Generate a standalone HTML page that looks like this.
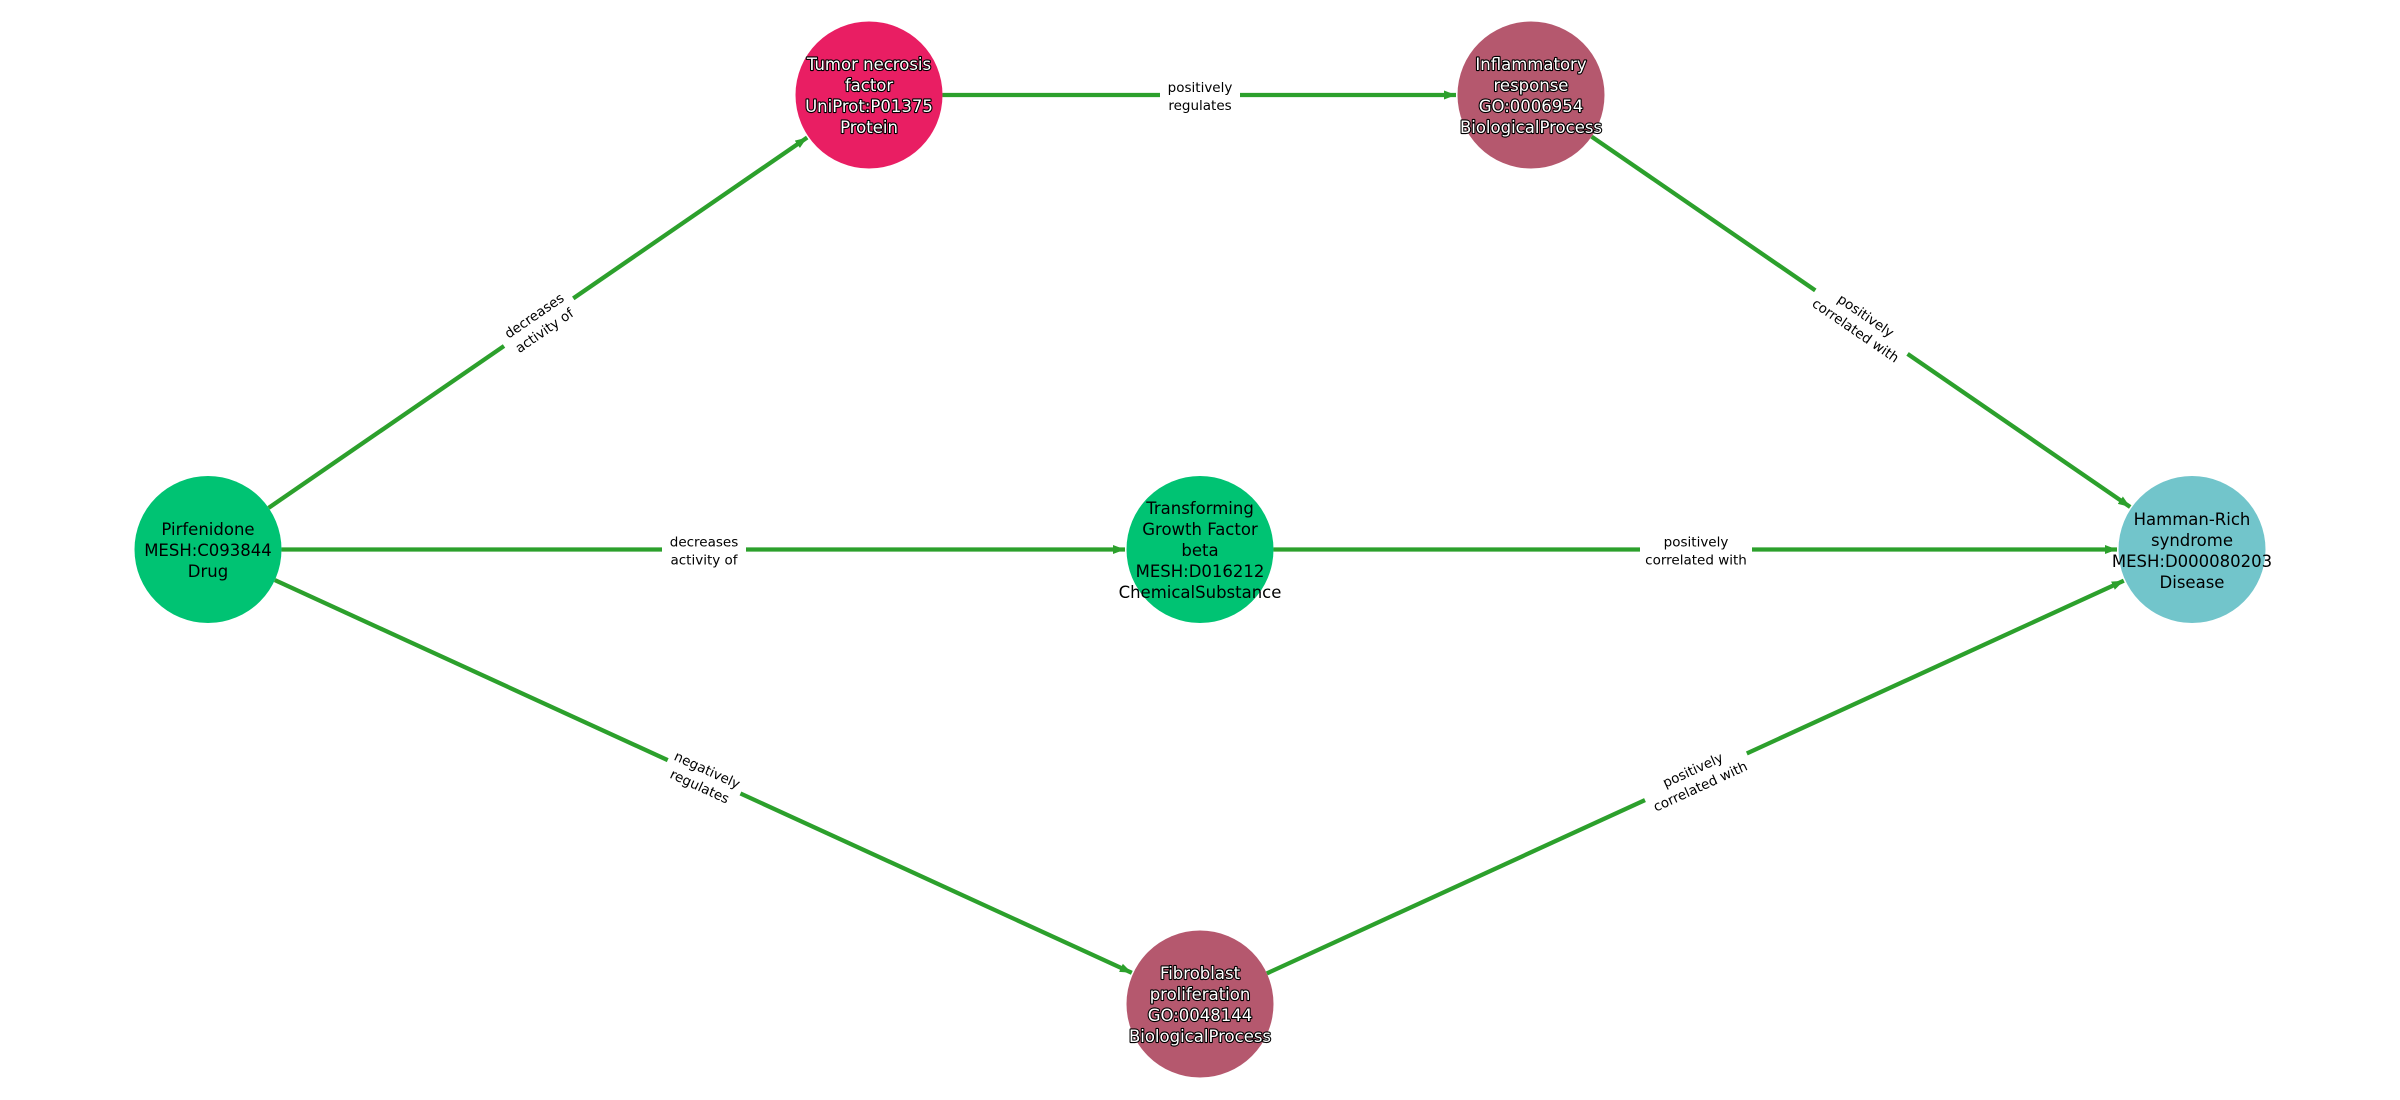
<!DOCTYPE html>
<html><head><meta charset="utf-8"><style>
html,body{margin:0;padding:0;background:#fff;width:2400px;height:1100px;overflow:hidden}
svg{display:block}
.nt{font-family:"DejaVu Sans","Liberation Sans",sans-serif;font-size:16.5px;text-anchor:middle}
.w{fill:#fff;stroke:#000;stroke-width:2.2px;paint-order:stroke;stroke-linejoin:round}
.b{fill:#000}
.el{font-family:"DejaVu Sans","Liberation Sans",sans-serif;font-size:13.5px;text-anchor:middle;fill:#000}
.e{stroke:#2ca02c;stroke-width:4.3;fill:none}
</style></head><body>
<svg width="2400" height="1100" viewBox="0 0 2400 1100" xmlns="http://www.w3.org/2000/svg">
<defs>
<marker id="a" markerUnits="userSpaceOnUse" markerWidth="14" markerHeight="12" refX="12" refY="6" orient="auto">
<path d="M0,1.5 L12,6 L0,10.5 Z" fill="#2ca02c"/>
</marker>
</defs>
<line class="e" x1="268.6" y1="507.9" x2="807.2" y2="137.5" marker-end="url(#a)"/>
<line class="e" x1="281.5" y1="549.5" x2="1125" y2="549.5" marker-end="url(#a)"/>
<line class="e" x1="274.8" y1="580.1" x2="1131.8" y2="972.8" marker-end="url(#a)"/>
<line class="e" x1="942.5" y1="95" x2="1456" y2="95" marker-end="url(#a)"/>
<line class="e" x1="1591.6" y1="136.6" x2="2130.2" y2="507" marker-end="url(#a)"/>
<line class="e" x1="1273.5" y1="549.5" x2="2117" y2="549.5" marker-end="url(#a)"/>
<line class="e" x1="1266.8" y1="973.4" x2="2123.8" y2="580.7" marker-end="url(#a)"/>

<g transform="translate(538.5,322) rotate(-34.5)"><rect x="-42" y="-19" width="84" height="38" fill="#fff"/><text class="el" y="-3">decreases</text><text class="el" y="15">activity of</text></g>
<g transform="translate(704,549.5)"><rect x="-42" y="-19" width="84" height="38" fill="#fff"/><text class="el" y="-3">decreases</text><text class="el" y="15">activity of</text></g>
<g transform="translate(704,777) rotate(24.6)"><rect x="-40" y="-19" width="80" height="38" fill="#fff"/><text class="el" y="-3">negatively</text><text class="el" y="15">regulates</text></g>
<g transform="translate(1200,95)"><rect x="-40" y="-19" width="80" height="38" fill="#fff"/><text class="el" y="-3">positively</text><text class="el" y="15">regulates</text></g>
<g transform="translate(1861.5,322) rotate(34.5)"><rect x="-56" y="-19" width="112" height="38" fill="#fff"/><text class="el" y="-3">positively</text><text class="el" y="15">correlated with</text></g>
<g transform="translate(1696,549.5)"><rect x="-56" y="-19" width="112" height="38" fill="#fff"/><text class="el" y="-3">positively</text><text class="el" y="15">correlated with</text></g>
<g transform="translate(1696,777) rotate(-24.6)"><rect x="-56" y="-19" width="112" height="38" fill="#fff"/><text class="el" y="-3">positively</text><text class="el" y="15">correlated with</text></g>

<circle cx="208" cy="549.5" r="73.5" fill="#00c373"/>
<circle cx="869" cy="95" r="73.5" fill="#e91e63"/>
<circle cx="1531" cy="95" r="73.5" fill="#b5586e"/>
<circle cx="1200" cy="549.5" r="73.5" fill="#00c373"/>
<circle cx="2192" cy="549.5" r="73.5" fill="#72c5cb"/>
<circle cx="1200" cy="1004" r="73.5" fill="#b5586e"/>

<g class="nt b"><text x="208" y="535">Pirfenidone</text><text x="208" y="556">MESH:C093844</text><text x="208" y="577">Drug</text></g>
<g class="nt w"><text x="869" y="70">Tumor necrosis</text><text x="869" y="91">factor</text><text x="869" y="112">UniProt:P01375</text><text x="869" y="133">Protein</text></g>
<g class="nt w"><text x="1531" y="70">Inflammatory</text><text x="1531" y="91">response</text><text x="1531" y="112">GO:0006954</text><text x="1531" y="133">BiologicalProcess</text></g>
<g class="nt b"><text x="1200" y="514">Transforming</text><text x="1200" y="535">Growth Factor</text><text x="1200" y="556">beta</text><text x="1200" y="577">MESH:D016212</text><text x="1200" y="598">ChemicalSubstance</text></g>
<g class="nt b"><text x="2192" y="525">Hamman-Rich</text><text x="2192" y="546">syndrome</text><text x="2192" y="567">MESH:D000080203</text><text x="2192" y="588">Disease</text></g>
<g class="nt w"><text x="1200" y="979">Fibroblast</text><text x="1200" y="1000">proliferation</text><text x="1200" y="1021">GO:0048144</text><text x="1200" y="1042">BiologicalProcess</text></g>
</svg>
</body></html>
